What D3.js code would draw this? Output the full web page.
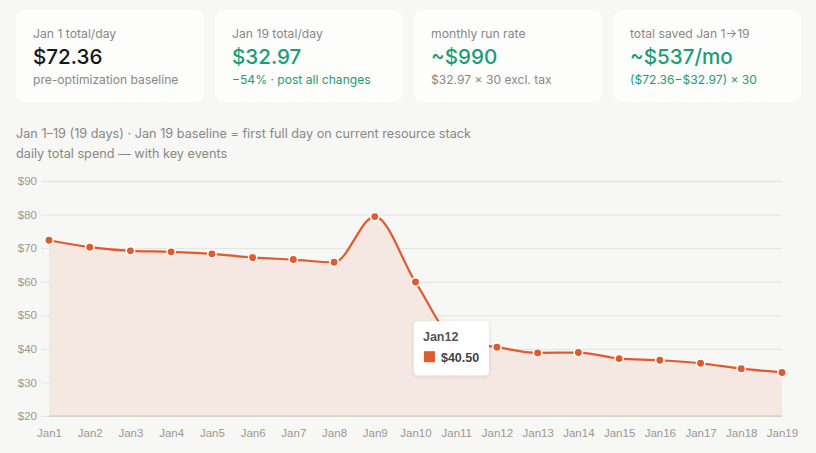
<!DOCTYPE html>
<html><head><meta charset="utf-8">
<script src="https://cdn.jsdelivr.net/npm/d3@7/dist/d3.min.js"></script>
<style>
html,body{margin:0;padding:0;background:#f7f7f5;}
svg{display:block;}
</style></head>
<body><svg id="c" width="816" height="453"></svg>
<script>
// ---- data ----
const days = ["Jan1","Jan2","Jan3","Jan4","Jan5","Jan6","Jan7","Jan8","Jan9","Jan10","Jan11","Jan12","Jan13","Jan14","Jan15","Jan16","Jan17","Jan18","Jan19"];
const spend = [72.36,70.3,69.2,68.9,68.3,67.2,66.6,65.8,79.4,59.9,42.5,40.50,38.8,38.9,37.1,36.6,35.7,34.1,32.97];
const yTicks = [20,30,40,50,60,70,80,90];
const cardLabels = ["Jan 1 total/day","Jan 19 total/day","monthly run rate","total saved Jan 1\u219219"];
const cardValues = ["$72.36","$32.97","~$990","~$537/mo"];
const cardNotes = ["pre-optimization baseline","\u221254% \u00b7 post all changes","$32.97 \u00d7 30 excl. tax","($72.36\u2212$32.97) \u00d7 30"];
const cardValueColors = ["#161616","#1e9c78","#1e9c78","#1e9c78"];
const cardNoteColors = ["#8a8784","#1e9c78","#8a8784","#1e9c78"];
const subtitle1 = "Jan 1\u201319 (19 days) \u00b7 Jan 19 baseline = first full day on current resource stack";
const subtitle2 = "daily total spend \u2014 with key events";
const tooltipDay = "Jan12";

const svg = d3.select("#c");
const UI = "Inter, 'Open Sans', sans-serif";
const AX = "'Liberation Sans', Arial, sans-serif";
const orange = "#df5a2c";

// ---- cards ----
const cardX = d3.scalePoint().domain(d3.range(4)).range([16, 613]);
const cards = svg.selectAll("g.card").data(d3.range(4)).join("g")
  .attr("class","card").attr("transform", i => `translate(${cardX(i)},10)`);
cards.append("rect").attr("width",188).attr("height",92).attr("rx",9).attr("fill","#fdfdfc");
cards.append("text").attr("x",17).attr("y",28).attr("font-family",UI).attr("font-size",12.2)
  .attr("fill","#8a8784").text(i => cardLabels[i]);
cards.append("text").attr("x",17).attr("y",54).attr("font-family",UI).attr("font-size",20.6)
  .attr("font-weight",500).attr("fill", i => cardValueColors[i]).text(i => cardValues[i]);
cards.append("text").attr("x",17).attr("y",74).attr("font-family",UI).attr("font-size",12.1)
  .attr("fill", i => cardNoteColors[i]).text(i => cardNotes[i]);

// ---- subtitles ----
svg.append("text").attr("x",16).attr("y",138).attr("font-family",UI).attr("font-size",12.7)
  .attr("fill","#8a8784").text(subtitle1);
svg.append("text").attr("x",16).attr("y",158).attr("font-family",UI).attr("font-size",12.7)
  .attr("fill","#8a8784").text(subtitle2);

// ---- chart ----
const x = d3.scalePoint().domain(days).range([49, 782]);
const y = d3.scaleLinear().domain([20, 90]).range([416, 181]);

// grid
const yAxis = d3.axisLeft(y).tickValues(yTicks).tickFormat(d => "$" + d).tickSize(-(782-41)).tickPadding(4);
const gy = svg.append("g").attr("transform","translate(41,0)").call(yAxis);
gy.select(".domain").remove();
gy.selectAll(".tick line").attr("stroke","#e6e2dd").attr("stroke-width",1);
gy.selectAll(".tick text").attr("font-family",AX).attr("font-size",11.5).attr("fill","#9a9794");

// area
const data = days.map((d,i) => ({d, v: spend[i]}));
const area = d3.area().x(p => x(p.d)).y0(y(20)).y1(p => y(p.v)).curve(d3.curveMonotoneX);
svg.append("path").datum(data).attr("d", area).attr("fill","#f5e8e2");

// x axis
const xAxis = d3.axisBottom(x).tickSize(0).tickPadding(13);
const gx = svg.append("g").attr("transform",`translate(0,${y(20)})`).call(xAxis);
gx.select(".domain").attr("stroke","#cbc4bb").attr("stroke-width",1.2).attr("d",`M49,0H782`);
gx.selectAll(".tick text").attr("font-family",AX).attr("font-size",11.5).attr("fill","#9a9794");

// line
const line = d3.line().x(p => x(p.d)).y(p => y(p.v)).curve(d3.curveMonotoneX);
svg.append("path").datum(data).attr("d", line).attr("fill","none").attr("stroke",orange).attr("stroke-width",2.2);
svg.selectAll("circle.pt").data(data).join("circle").attr("class","pt")
  .attr("cx", p => x(p.d)).attr("cy", p => y(p.v)).attr("r",4.2)
  .attr("fill",orange).attr("stroke","#fff").attr("stroke-width",1.5);

// tooltip
const ti = days.indexOf(tooltipDay);
const tx = x(tooltipDay) - 83, ty = y(spend[ti]) - 26;
const defs = svg.append("defs");
const f = defs.append("filter").attr("id","sh").attr("x","-20%").attr("y","-20%").attr("width","140%").attr("height","160%");
f.append("feDropShadow").attr("dx",0).attr("dy",1).attr("stdDeviation",2).attr("flood-color","#000").attr("flood-opacity",0.12);
const tg = svg.append("g").attr("transform",`translate(${tx},${ty})`);
tg.append("rect").attr("width",75).attr("height",54).attr("rx",4).attr("fill","#fff").attr("filter","url(#sh)");
tg.append("text").attr("x",9).attr("y",20).attr("font-family",AX).attr("font-size",12.5).attr("font-weight",600)
  .attr("fill","#555").text(tooltipDay);
tg.append("rect").attr("x",10).attr("y",30).attr("width",11).attr("height",11).attr("fill",orange);
tg.append("text").attr("x",27).attr("y",40.5).attr("font-family",AX).attr("font-size",12.5).attr("font-weight",600)
  .attr("fill","#444").text("$" + spend[ti].toFixed(2));
</script></body></html>
